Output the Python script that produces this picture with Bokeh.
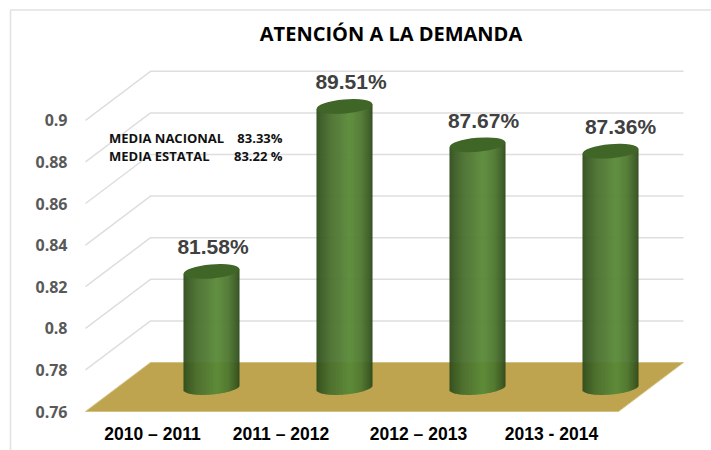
import numpy as np
from bokeh.plotting import figure
from bokeh.models import Range1d, FixedTicker
from bokeh.core.properties import value
from bokeh.embed import file_html
from bokeh.resources import INLINE

# ---------- data ----------
categories = ["2010 – 2011", "2011 – 2012", "2012 – 2013", "2013 - 2014"]
percent = [81.58, 89.51, 87.67, 87.36]
y_ticks = [0.76, 0.78, 0.80, 0.82, 0.84, 0.86, 0.88, 0.90]
y_tick_labels = ["0.76", "0.78", "0.8", "0.82", "0.84", "0.86", "0.88", "0.9"]
title_text = "ATENCIÓN A LA DEMANDA"
note_names = ["MEDIA NACIONAL", "MEDIA ESTATAL"]
note_values = ["83.33%", "83.22 %"]

# ---------- layout (page pixels -> data units) ----------
W, H = 711, 450
PX_Y = 2080.0            # pixels per unit of value
PX_X = 133.0             # pixels per category
X0_PAGE, Y0_PAGE = 211.0, 411.0   # page pixel of category 0 / value 0.76


def dx(px):
    return (px - X0_PAGE) / PX_X


def dy(px):
    return 0.76 + (Y0_PAGE - px) / PX_Y


p = figure(width=W, height=H, output_backend="svg", toolbar_location=None,
           x_range=Range1d(dx(0), dx(W)), y_range=Range1d(dy(H), dy(0)),
           min_border=0, outline_line_color=None, background_fill_color="white",
           border_fill_color="white")
p.grid.visible = False

# outer frame lines
p.multi_line([[dx(10), dx(10), dx(711)]], [[dy(450), dy(9.5), dy(9.5)]],
             line_color="#e2e2e2", line_width=1.6)

# walls
depth = 49 / PX_Y
xfl, xbl, xbr, xfr = dx(85), dx(150), dx(683), dx(618)
wall_xs = [[xfl, xbl, xbr] for v in y_ticks[1:]]
wall_ys = [[v, v + depth, v + depth] for v in y_ticks[1:]]
p.multi_line(wall_xs, wall_ys, line_color="#dedede", line_width=1.5)

# floor
p.patch([xfl, xbl, xbr, xfr], [0.76, 0.76 + depth, 0.76 + depth, 0.76],
        fill_color="#bfa44f", line_color="#d3c184", line_width=1)

# cylinders
base_plane = 0.76 + 24 / PX_Y    # bar feet stand mid-way along the floor
half_w = 28.0
tilt = np.tan(np.radians(5.0))
semi = 7.0
stops_pos = [0.0, 0.05, 0.25, 0.60, 0.80, 0.96, 1.0]
stops_rgb = np.array([[46, 74, 28], [54, 86, 32], [74, 112, 47], [90, 138, 56],
                      [78, 120, 48], [54, 86, 32], [44, 70, 26]], dtype=float)
l, r, b, t, c = [], [], [], [], []
for i, pct in enumerate(percent):
    v = pct / 100
    cx = X0_PAGE + PX_X * i
    for k in range(int(2 * half_w)):
        u = (k + 0.5) / half_w - 1
        f = (k + 0.5) / (2 * half_w)
        rgb = [int(np.interp(f, stops_pos, stops_rgb[:, n])) for n in range(3)]
        c.append("#%02x%02x%02x" % tuple(rgb))
        l.append(dx(cx - half_w + k))
        r.append(dx(cx - half_w + k + (1.4 if k < 2 * half_w - 1 else 1.0)))
        slope = tilt * half_w * u
        b.append(base_plane + (slope - semi * np.sqrt(1 - u * u)) / PX_Y)
        t.append(v - 0.76 + base_plane + slope / PX_Y)
p.quad(left=l, right=r, bottom=b, top=t, fill_color=c, line_color=None)

tops = [pct / 100 - 0.76 + base_plane for pct in percent]
p.ellipse(x=list(range(len(percent))), y=tops, width=56, height=14,
          width_units="screen", height_units="screen", angle=5.0, angle_units="deg",
          fill_color="#3f6527", line_color=None)

# value labels
lab_dx = [1.5, 6.5, 6.0, 10.0]
p.text([i + lab_dx[i] / PX_X for i in range(4)], [tv + 24.5 / PX_Y for tv in tops],
       text=[f"{q:.2f}%" for q in percent],
       text_font=value("Liberation Sans"), text_font_style="bold", text_font_size="21px",
       text_color="#404040", text_align="center", text_baseline="middle")

# title
p.text([dx(390.5)], [dy(33)], text=[title_text], text_font=value("Open Sans"),
       text_font_style="bold", text_font_size="20px", text_color="#000000",
       text_align="center", text_baseline="middle")

# notes
note_font = dict(text_font=value("Open Sans"), text_font_style="bold", text_font_size="13px",
                 text_color="#111111", text_baseline="middle")
p.text([dx(108.5)] * 2, [dy(137.5), dy(155)], text=note_names, text_align="left", **note_font)
p.text([dx(282)] * 2, [dy(137.5), dy(155)], text=note_values, text_align="right", **note_font)

# y axis, fixed inside the frame
yax = p.yaxis[0]
yax.fixed_location = dx(76)
yax.ticker = FixedTicker(ticks=y_ticks)
yax.major_label_overrides = dict(zip(y_ticks, y_tick_labels))
yax.axis_line_color = None
yax.major_tick_line_color = None
yax.minor_tick_line_color = None
yax.major_label_standoff = 3
yax.major_label_text_font = "Open Sans"
yax.major_label_text_font_style = "bold"
yax.major_label_text_font_size = "16px"
yax.major_label_text_color = "#595959"

# x axis, fixed inside the frame, labels set slightly left of the cylinders
xax = p.xaxis[0]
label_px = [152, 280.5, 418, 551]
x_ticks = [dx(q) for q in label_px]
xax.fixed_location = dy(416)
xax.ticker = FixedTicker(ticks=x_ticks)
xax.major_label_overrides = dict(zip(x_ticks, categories))
xax.axis_line_color = None
xax.major_tick_line_color = None
xax.minor_tick_line_color = None
xax.major_label_standoff = 1
xax.major_label_text_font = "Liberation Sans"
xax.major_label_text_font_style = "bold"
xax.major_label_text_font_size = "17.5px"
xax.major_label_text_color = "#000000"

open("out.html", "w").write(file_html(p, INLINE))
